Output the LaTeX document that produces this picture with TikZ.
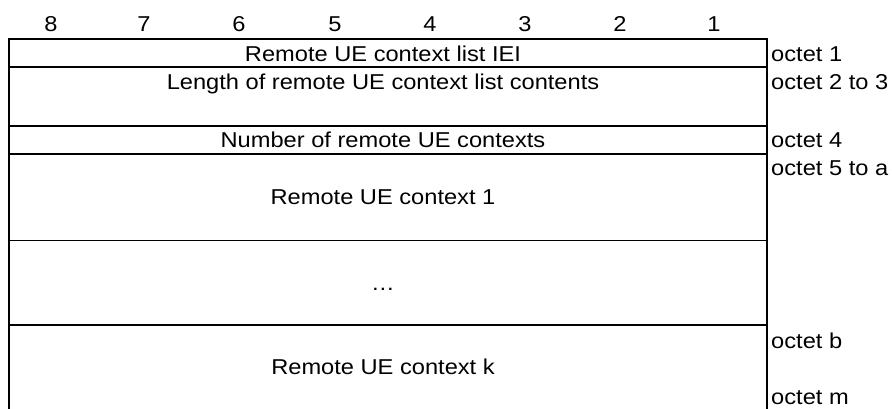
\documentclass[tikz,border=0pt]{standalone}
\usepackage{fontspec}
\setmainfont{Liberation Sans}[FakeStretch=1.1]
\begin{document}
\begin{tikzpicture}[x=1pt,y=-1pt,
  frame/.style={line width=1.4pt,line cap=rect},
  txt/.style={anchor=base,inner sep=0pt,font=\fontsize{21.5}{25}\selectfont},
  oct/.style={anchor=base west,inner sep=0pt,font=\fontsize{21.5}{25}\selectfont}]
\useasboundingbox (0,0) rectangle (892,408);
% bit numbers
\foreach \n/\x in {8/51,7/144,6/239,5/335,4/430,3/525,2/620,1/714}
  \node[txt] (bit\n) at (\x,31) {\n};
% frame
\draw[frame] (9,408) -- (9,39) -- (767,39) -- (767,408);
\foreach \y in {67,126,154,240.5,325}
  \draw[frame] (9,\y) -- (767,\y);
% field texts
\node[txt] (iei) at (383,61) {Remote UE context list IEI};
\node[txt] (len) at (383,89) {Length of remote UE context list contents};
\node[txt] (num) at (383,147) {Number of remote UE contexts};
\node[txt] (ctx1) at (383,204) {Remote UE context 1};
\node[txt] (dots) at (383,290) {\ldots};
\node[txt] (ctxk) at (383,374) {Remote UE context k};
% octet labels
\node[oct] (o1) at (771,61) {octet 1};
\node[oct] (o2) at (771,89) {octet 2 to 3};
\node[oct] (o4) at (771,147) {octet 4};
\node[oct] (o5) at (771,175) {octet 5 to a};
\node[oct] (ob) at (771,348) {octet b};
\node[oct] (om) at (771,404) {octet m};
\end{tikzpicture}
\end{document}
